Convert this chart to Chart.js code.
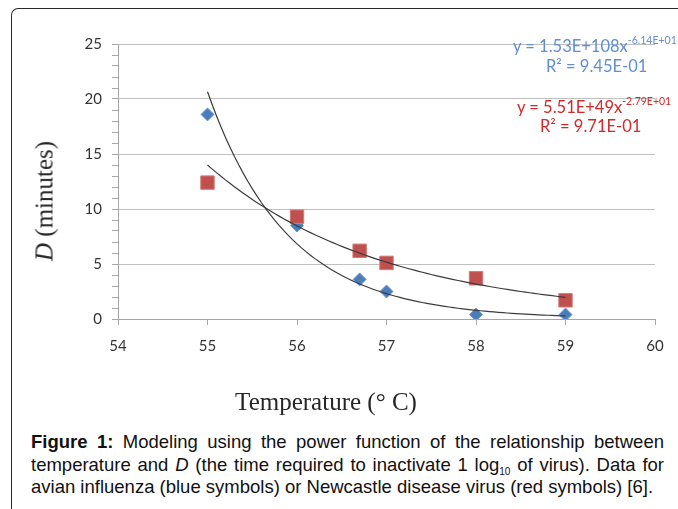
<!DOCTYPE html>
<html><head><meta charset="utf-8">
<script src="https://cdn.jsdelivr.net/npm/chart.js@4/dist/chart.umd.min.js"></script>
<style>
html,body{margin:0;padding:0;background:#fff;width:678px;height:509px;overflow:hidden;position:relative;}
#frame{position:absolute;left:11px;top:8px;width:800px;height:600px;border-left:1.5px solid #2a2a2a;border-top:1.5px solid #2a2a2a;border-top-left-radius:7px;}
#wrap{position:absolute;left:0;top:0;width:678px;height:420px;}
.t{position:absolute;white-space:nowrap;}
.eq{font-family:Lato,"Open Sans",sans-serif;font-size:16.5px;line-height:1;}
.eq sup{font-size:10.5px;position:relative;top:-1px;}
.blue{color:#5f8fd2;}
.red{color:#d12a2a;}
.serif{font-family:"Liberation Serif","DejaVu Serif",serif;font-size:25px;color:#262626;line-height:1;}
.cap{position:absolute;left:31px;width:633px;font-family:"Liberation Sans",Arial,sans-serif;font-size:18.5px;line-height:22.5px;color:#111;white-space:nowrap;}
.just{text-align:justify;text-align-last:justify;white-space:normal;}
.cap sub{font-size:10px;vertical-align:-4px;line-height:0;}
</style></head><body>
<div id="frame"></div>
<div id="wrap"><canvas id="c" width="678" height="420"></canvas></div>

<div class="t eq blue" style="left:513px;top:36px;">y = 1.53E+108x<sup>-6.14E+01</sup></div>
<div class="t eq blue" style="left:546px;top:58px;">R² = 9.45E-01</div>
<div class="t eq red" style="left:517px;top:97px;">y = 5.51E+49x<sup>-2.79E+01</sup></div>
<div class="t eq red" style="left:540px;top:118px;">R² = 9.71E-01</div>

<div class="t serif" style="left:44px;top:201px;transform:translate(-50%,-50%) rotate(-90deg);"><i>D</i> (minutes)</div>
<div class="t serif" style="left:326px;top:401px;transform:translate(-50%,-50%);">Temperature (° C)</div>

<div class="cap just" style="top:431px;"><b>Figure 1:</b> Modeling using the power function of the relationship between</div>
<div class="cap just" style="top:453.5px;">temperature and <i>D</i> (the time required to inactivate 1 log<sub>10</sub> of virus). Data for</div>
<div class="cap" style="top:476px;">avian influenza (blue symbols) or Newcastle disease virus (red symbols) [6].</div>

<script>
// ---- data ----
const temps = [55, 56, 56.7, 57, 58, 59];
const avianD = [18.6, 8.5, 3.6, 2.5, 0.4, 0.4];      // blue diamonds
const ndvD = [12.4, 9.3, 6.2, 5.1, 3.7, 1.7];        // red squares
const xTicks = [54, 55, 56, 57, 58, 59, 60];
const yTickLabels = [0, 5, 10, 15, 20, 25];

// power-law least squares fit (Excel power trendline) on log-log data
function powerFit(xs, ys) {
  const lx = xs.map(Math.log), ly = ys.map(Math.log), n = xs.length;
  const mx = lx.reduce((a, b) => a + b, 0) / n, my = ly.reduce((a, b) => a + b, 0) / n;
  let sxy = 0, sxx = 0;
  for (let i = 0; i < n; i++) { sxy += (lx[i] - mx) * (ly[i] - my); sxx += (lx[i] - mx) ** 2; }
  const b = sxy / sxx, lna = my - b * mx;
  return x => Math.exp(lna + b * Math.log(x));
}
function trend(xs, ys) {
  const f = powerFit(xs, ys), pts = [];
  const x0 = Math.min(...xs), x1 = Math.max(...xs);
  for (let i = 0; i <= 80; i++) { const x = x0 + (x1 - x0) * i / 80; pts.push({x, y: f(x)}); }
  return pts;
}
const pairs = (xs, ys) => xs.map((x, i) => ({x, y: ys[i]}));

new Chart(document.getElementById('c'), {
  type: 'scatter',
  data: {
    datasets: [
      {type: 'line', data: trend(temps, avianD), borderColor: '#3c3c3c', borderWidth: 1.2, pointRadius: 0, tension: 0, order: 0},
      {type: 'line', data: trend(temps, ndvD), borderColor: '#3c3c3c', borderWidth: 1.2, pointRadius: 0, tension: 0, order: 0},
      {data: pairs(temps, ndvD), pointStyle: 'rect', pointRadius: 9.5, backgroundColor: '#c0504d', borderColor: '#d07a78', borderWidth: 1, order: 1},
      {data: pairs(temps, avianD), pointStyle: 'rectRot', pointRadius: 6.5, backgroundColor: '#4a7ebb', borderColor: '#6f98cc', borderWidth: 1, order: 2}
    ]
  },
  options: {
    responsive: false, animation: false, devicePixelRatio: 1,
    layout: {padding: {top: 44, right: 23, left: 0, bottom: 0}},
    plugins: {legend: {display: false}, tooltip: {enabled: false}},
    scales: {
      x: {
        type: 'linear', min: xTicks[0], max: xTicks[xTicks.length - 1],
        afterBuildTicks: s => { s.ticks = xTicks.map(v => ({value: v})); },
        afterFit: s => { s.height = 101; },
        grid: {drawOnChartArea: false, tickLength: 6, tickColor: '#a6a6a6'},
        border: {color: '#a6a6a6', width: 1},
        ticks: {padding: 12, color: '#333', font: {family: 'Lato', size: 15}}
      },
      y: {
        min: 0, max: 25,
        afterBuildTicks: s => { const t = []; for (let v = 0; v <= 25; v++) t.push({value: v}); s.ticks = t; },
        afterFit: s => { s.width = 118; },
        grid: {
          color: c => (yTickLabels.includes(c.tick.value) && c.tick.value !== 0) ? '#bfbfbf' : 'rgba(0,0,0,0)',
          tickColor: '#a6a6a6', tickLength: 6, lineWidth: 1
        },
        border: {color: '#a6a6a6', width: 1},
        ticks: {autoSkip: false, padding: 10, color: '#333', font: {family: 'Lato', size: 15},
          callback: v => yTickLabels.includes(v) ? String(v) : ''}
      }
    }
  }
});
</script>
</body></html>
